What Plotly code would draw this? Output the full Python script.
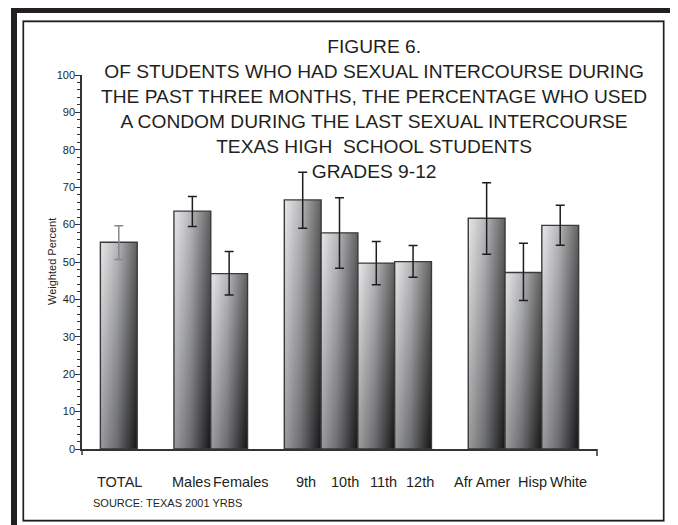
import plotly.graph_objects as go

# ---------------- data ----------------
categories = ["TOTAL", "Males", "Females", "9th", "10th", "11th", "12th",
              "Afr Amer", "Hisp", "White"]
groups = ["Total", "Sex", "Sex", "Grade", "Grade", "Grade", "Grade",
          "Race", "Race", "Race"]
percent = [55.3, 63.6, 46.9, 66.6, 57.8, 49.7, 50.1, 61.7, 47.2, 59.8]
ci_upper = [59.7, 67.5, 52.8, 74.0, 67.2, 55.5, 54.4, 71.2, 55.0, 65.2]
ci_lower = [50.7, 59.5, 41.2, 59.0, 48.3, 43.9, 45.9, 52.1, 39.7, 54.5]
y_ticks = [0, 10, 20, 30, 40, 50, 60, 70, 80, 90, 100]

title_lines = ["FIGURE 6.",
               "OF STUDENTS WHO HAD SEXUAL INTERCOURSE DURING",
               "THE PAST THREE MONTHS, THE PERCENTAGE WHO USED",
               "A CONDOM DURING THE LAST SEXUAL INTERCOURSE",
               "TEXAS HIGH\u00a0 SCHOOL STUDENTS",
               "GRADES 9-12"]
y_title = "Weighted Percent"
source = "SOURCE: TEXAS 2001 YRBS"

# ---------------- layout / style ----------------
# the page body adds an 8px offset; build the figure so that it lands on
# the 678x525 window coordinates
OFF = 8
W, H = 678 - OFF, 525 - OFF
PLOT_L, PLOT_R, PLOT_T, PLOT_B = 82, 597, 75, 449   # window pixels
ML = PLOT_L - OFF
MT = PLOT_T - OFF
PW = PLOT_R - PLOT_L
PH = PLOT_B - PLOT_T
MR = W - ML - PW
MB = H - MT - PH
FONT = "Liberation Sans, Arial, Helvetica, sans-serif"
TXT = "#231f20"
# horizontal nudges (px) of the category labels, as typeset in the original
LABEL_NUDGE = {"TOTAL": 1, "Males": -1, "Females": 12, "9th": 3, "10th": 5,
               "11th": 7, "12th": 7, "Afr Amer": -4, "Hisp": 9, "White": 8}


def px(x):
    return (x - PLOT_L) / PW


def py(y):
    return (PLOT_B - y) / PH


# positions: one slot per bar, one empty slot between groups
group_order = []
for g in groups:
    if g not in group_order:
        group_order.append(g)
positions = [i + group_order.index(g) + 1 for i, g in enumerate(groups)]
x_max = positions[-1] + 1

fig = go.Figure()

for i, (cat, pos, v, hi, lo) in enumerate(zip(categories, positions, percent,
                                                ci_upper, ci_lower)):
    x0, x1 = pos - 0.5, pos + 0.5
    xs = [x0, x0, x1, x1, x0]
    ys = [0, v, v, 0, 0]
    # base horizontal gradient
    fig.add_trace(go.Scatter(
        x=xs, y=ys, mode="lines", fill="toself",
        fillgradient=dict(type="horizontal", start=x0, stop=x1,
                          colorscale=[[0, "#dcdde0"], [0.45, "#98999d"],
                                      [1, "#1e1e1f"]]),
        line=dict(width=0, color="rgba(0,0,0,0)"),
        hoverinfo="skip", showlegend=False))
    # vertical shading overlay + outline
    fig.add_trace(go.Scatter(
        x=xs, y=ys, mode="lines", fill="toself",
        fillgradient=dict(type="vertical", start=0, stop=v,
                          colorscale=[[0, "rgba(0,0,0,0.3)"],
                                      [1, "rgba(255,255,255,0.3)"]]),
        line=dict(width=1.4, color="#3a3a3a"),
        hoverinfo="skip", showlegend=False))
    # error bar
    fig.add_trace(go.Scatter(
        x=[pos], y=[v], mode="markers",
        marker=dict(color="rgba(0,0,0,0)", size=1),
        error_y=dict(type="data", symmetric=False,
                     array=[hi - v], arrayminus=[v - lo],
                     color="#8a8a8a" if i == 0 else "#1e1e1e",
                     thickness=1.5, width=4.5),
        hoverinfo="skip", showlegend=False))

shapes = [
    # outer black band
    dict(type="rect", xref="paper", yref="paper", layer="below",
         x0=px(11), x1=px(700), y0=py(7), y1=py(560),
         fillcolor="#231f20", line=dict(width=0)),
    dict(type="rect", xref="paper", yref="paper", layer="below",
         x0=px(17), x1=px(670), y0=py(13), y1=py(560),
         fillcolor="white", line=dict(width=0)),
    # grey top edge of band
    dict(type="line", xref="paper", yref="paper", layer="below",
         x0=px(11), x1=px(700), y0=py(7), y1=py(7),
         line=dict(color="#8a8a8a", width=1)),
    # inner panel border
    dict(type="rect", xref="paper", yref="paper", layer="below",
         x0=px(22.5), x1=px(664.5), y0=py(20.5), y1=py(521.5),
         line=dict(color="#9a9a9a", width=1)),
    dict(type="rect", xref="paper", yref="paper", layer="below",
         x0=px(23.5), x1=px(663.5), y0=py(21.5), y1=py(520.5),
         line=dict(color="#1e1e1e", width=1.3)),
    # axis end details
    dict(type="line", xref="paper", yref="paper",
         x0=0, x1=0, y0=0, y1=py(455),
         line=dict(color="#333333", width=1.5)),
    dict(type="line", xref="paper", yref="paper",
         x0=1, x1=1, y0=0, y1=py(456),
         line=dict(color="#333333", width=1.5)),
]

annotations = [
    dict(text="<br>".join(title_lines), xref="paper", yref="paper",
         x=px(374), y=py(109), xanchor="center", yanchor="middle",
         showarrow=False, align="center",
         font=dict(family=FONT, size=19.2, color=TXT)),
    dict(text=y_title, xref="paper", yref="y", x=px(52), y=50,
         xanchor="center", yanchor="middle", textangle=-90,
         showarrow=False, font=dict(family=FONT, size=11, color=TXT)),
    dict(text=source, xref="paper", yref="paper", x=px(91), y=py(503),
         xanchor="left", yanchor="middle", showarrow=False,
         font=dict(family=FONT, size=11, color=TXT)),
]
# category labels under the axis, placed through the x axis
for cat, pos in zip(categories, positions):
    annotations.append(dict(
        text=cat, xref="x", yref="paper", x=pos, y=py(482),
        xanchor="center", yanchor="middle", xshift=LABEL_NUDGE.get(cat, 0),
        showarrow=False, font=dict(family=FONT, size=14.5, color=TXT)))

fig.update_layout(
    width=W, height=H,
    margin=dict(l=ML, r=MR, t=MT, b=MB, pad=0, autoexpand=False),
    paper_bgcolor="white", plot_bgcolor="rgba(0,0,0,0)",
    font=dict(family=FONT, color=TXT),
    showlegend=False,
    shapes=shapes,
    annotations=annotations,
    xaxis=dict(range=[0, x_max], tickvals=positions, ticktext=categories,
               showticklabels=False, ticks="", automargin=False,
               showgrid=False, zeroline=False,
               showline=True, linecolor="#333333", linewidth=1.5,
               fixedrange=True),
    yaxis=dict(range=[0, 100], tickvals=y_ticks, ticks="outside",
               ticklen=5, tickwidth=1, tickcolor="#333333", automargin=False,
               minor=dict(dtick=2, tick0=0, ticks="outside", ticklen=3,
                          tickwidth=1, tickcolor="#333333"),
               showgrid=False, zeroline=False,
               showline=True, linecolor="#333333", linewidth=1.5,
               ticklabelstandoff=-2,
               tickfont=dict(family=FONT, size=11, color=TXT),
               fixedrange=True),
)

fig.write_html("out.html")
